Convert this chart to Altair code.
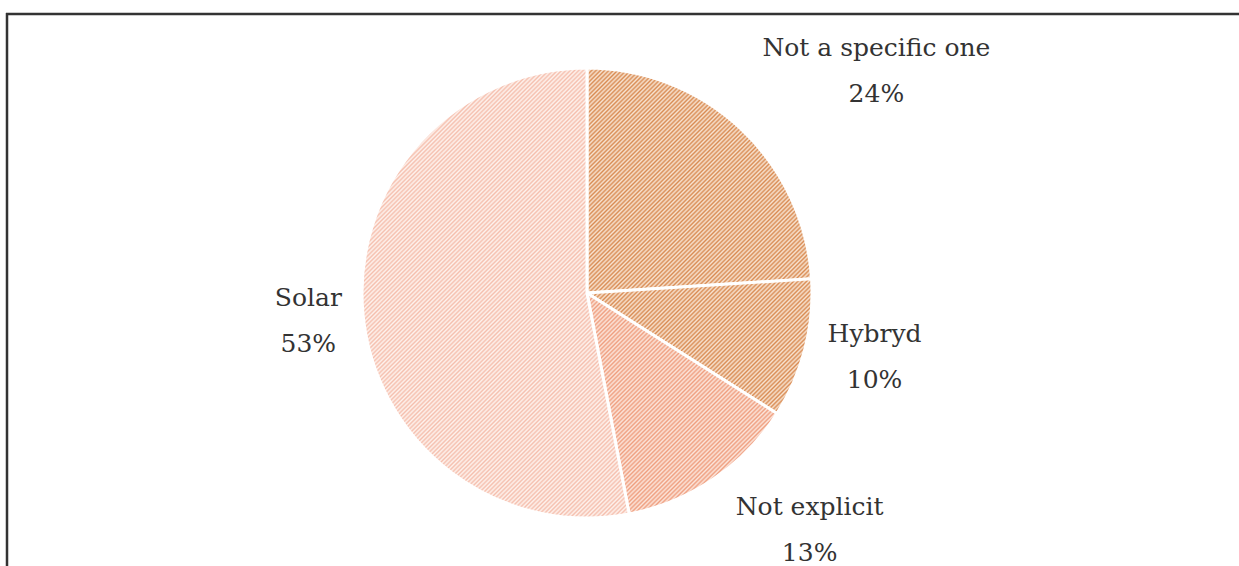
import math
import altair as alt
import pandas as pd

# ---- data ----
categories = ["Not a specific one", "Hybryd", "Not explicit", "Solar"]
shares = [24, 10, 13, 53]
pct_labels = ["24%", "10%", "13%", "53%"]

# ---- styles ----
CX, CY, R = 587, 293, 225
PITCH = 4.3
stripe_colors = {
    "Not a specific one": ("#d98c54", "#f8e4d2"),
    "Hybryd": ("#d98c54", "#f8e4d2"),
    "Not explicit": ("#ef9f80", "#fce6dc"),
    "Solar": ("#f5bfae", "#fef3ee"),
}
LABEL_R = 300
label_offsets = {
    "Not a specific one": (84, -26),
    "Hybryd": (-3, -34),
    "Not explicit": (54, -34),
    "Solar": (20, -23),
}
FONT = "DejaVu Serif"
FONT_SIZE = 25

starts, ends, mids = [], [], []
acc = 0
for v in shares:
    starts.append(acc)
    ends.append(acc + v)
    mids.append(acc + v / 2)
    acc += v

df = pd.DataFrame({
    "category": categories,
    "share": shares,
    "start": starts,
    "end": ends,
    "mid": mids,
    "label": [f"{c}\n{p}" for c, p in zip(categories, pct_labels)],
})


def hatch(start_pct, end_pct, dark, light):
    a0 = start_pct / 100 * 2 * math.pi
    a1 = end_pct / 100 * 2 * math.pi
    angs = [a0, a1] + [k * math.pi / 2 for k in range(5) if a0 < k * math.pi / 2 < a1]
    xs = [CX] + [CX + R * math.sin(a) for a in angs]
    ys = [CY] + [CY - R * math.cos(a) for a in angs]
    x0, x1, y0, y1 = min(xs), max(xs), min(ys), max(ys)
    w, h = x1 - x0, y1 - y0
    k = (w + h) / (w * w + h * h)
    s0, L = x0 + y0, w + h
    half = PITCH / 2
    stops = []
    n0 = math.ceil(s0 / half)
    n1 = math.floor((s0 + L) / half)
    for n in range(n0, n1 + 1):
        off = (n * half - s0) / L
        off = min(max(off, 0.0), 1.0)
        stops.append(alt.GradientStop(offset=off, color=dark if n % 2 == 0 else light))
    return alt.LinearGradient(gradient="linear", stops=stops, x1=0, y1=0, x2=k * w, y2=k * h)


theta_scale = alt.Scale(domain=[0, 100], range=[0, 2 * math.pi])
base = alt.Chart(df)

layers = []
for cat, s, e in zip(categories, starts, ends):
    dark, light = stripe_colors[cat]
    layers.append(
        base.transform_filter(alt.datum.category == cat)
        .mark_arc(radius=R, stroke="white", strokeWidth=3, fill=hatch(s, e, dark, light))
        .encode(
            theta=alt.Theta("start:Q", scale=theta_scale),
            theta2="end:Q",
            x=alt.value(CX),
            y=alt.value(CY),
        )
    )

for cat in categories:
    dx, dy = label_offsets[cat]
    layers.append(
        base.transform_filter(alt.datum.category == cat)
        .mark_text(radius=LABEL_R, dx=dx, dy=dy, font=FONT, fontSize=FONT_SIZE, color="#333333",
                   lineBreak="\n", lineHeight=46, align="center", baseline="middle")
        .encode(
            theta=alt.Theta("mid:Q", scale=theta_scale),
            text="label:N",
            x=alt.value(CX),
            y=alt.value(CY),
        )
    )

frame = alt.Chart(pd.DataFrame({"a": [0]}))
layers.append(frame.mark_rule(color="#333333", strokeWidth=2.5).encode(
    x=alt.value(6), x2=alt.value(1239), y=alt.value(14)))
layers.append(frame.mark_rule(color="#333333", strokeWidth=2.5).encode(
    x=alt.value(7), y=alt.value(13), y2=alt.value(566)))

chart = alt.layer(*layers).properties(
    width=1239, height=566, autosize=alt.AutoSizeParams(type="none"), padding=0
).configure_view(stroke=None)

chart.save("out.html", embed_options={"renderer": "svg", "actions": False})
